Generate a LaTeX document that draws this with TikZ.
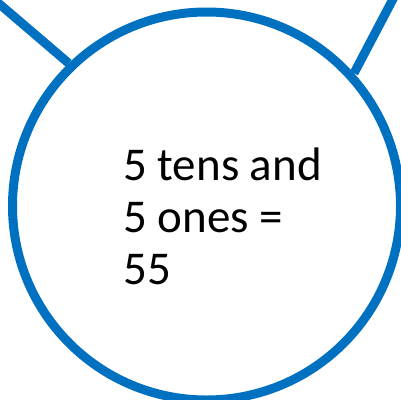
\documentclass[tikz,border=0pt]{standalone}
\usepackage{fontspec}
\setmainfont{Carlito}
\definecolor{ringblue}{HTML}{0070C0}
\begin{document}
\begin{tikzpicture}[x=1pt,y=-1pt,
  ring/.style={circle,draw=ringblue,line width=9pt,minimum size=388pt,inner sep=0pt},
  stem/.style={draw=ringblue,line width=9pt},
  label/.style={font=\fontsize{47}{52}\selectfont,align=left,inner sep=0pt,anchor=base west}]
\useasboundingbox (0,0) rectangle (401,399);
\node[ring] (c) at (206.5,206) {};
\coordinate (tl) at (-20,-12.6);
\coordinate (tr) at (403,-20);
\draw[stem] (tl) -- (c.134.5);
\draw[stem] (tr) -- (c.42.9);
\node[label] (t) at (123,284) {5 tens and\\5 ones =\\55};
\end{tikzpicture}
\end{document}
